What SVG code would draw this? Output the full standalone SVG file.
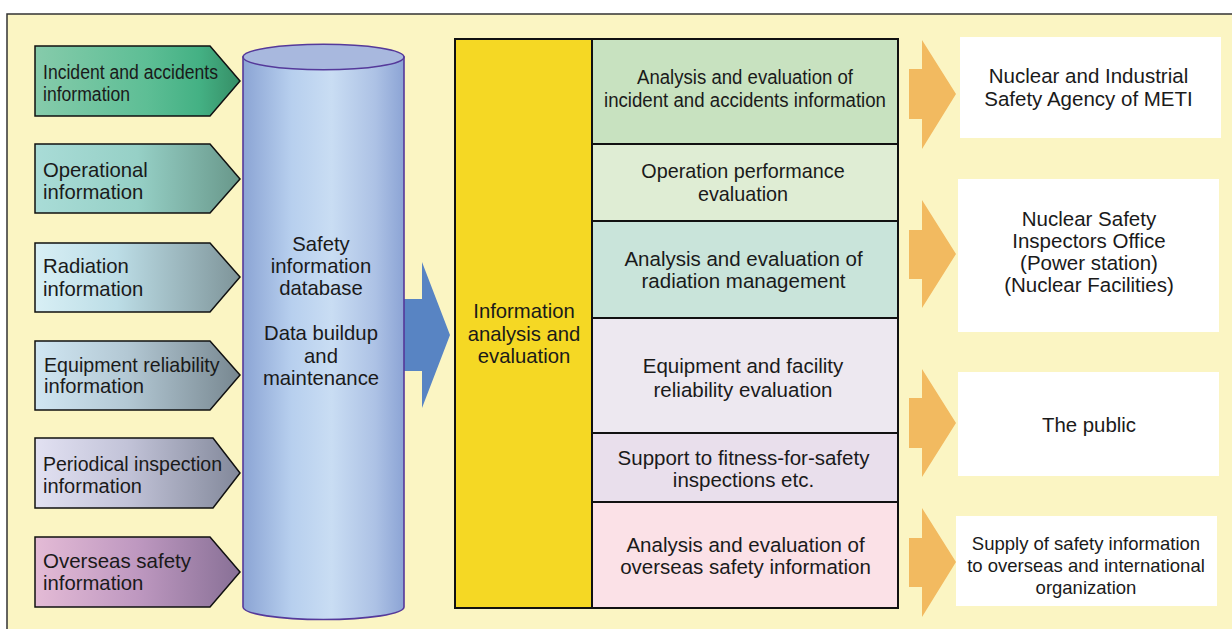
<svg xmlns="http://www.w3.org/2000/svg" width="1232" height="629" viewBox="0 0 1232 629">
<defs>
<style>
text{font-family:"Liberation Sans",Arial,Helvetica,sans-serif;fill:#1a1a1a}
.l{text-anchor:start}
.c{text-anchor:middle}
.src{stroke:#111;stroke-width:1.5}
.box{stroke:#111;stroke-width:2}
.oa{fill:#F2BA60}
.wb{fill:#fff}
</style>
<linearGradient id="g1" x1="0" y1="0" x2="1" y2="0"><stop offset="0" stop-color="#86CBAB"/><stop offset="0.55" stop-color="#5DBE95"/><stop offset="0.8" stop-color="#44B184"/><stop offset="1" stop-color="#368E66"/></linearGradient>
<linearGradient id="g2" x1="0" y1="0" x2="1" y2="0"><stop offset="0" stop-color="#A9DCD7"/><stop offset="0.5" stop-color="#96D0C6"/><stop offset="1" stop-color="#68978A"/></linearGradient>
<linearGradient id="g3" x1="0" y1="0" x2="1" y2="0"><stop offset="0" stop-color="#D8EFF5"/><stop offset="0.4" stop-color="#BCDDE6"/><stop offset="1" stop-color="#7E9499"/></linearGradient>
<linearGradient id="g4" x1="0" y1="0" x2="1" y2="0"><stop offset="0" stop-color="#D0E6F2"/><stop offset="0.45" stop-color="#B3C8D4"/><stop offset="1" stop-color="#778790"/></linearGradient>
<linearGradient id="g5" x1="0" y1="0" x2="1" y2="0"><stop offset="0" stop-color="#E2E1F2"/><stop offset="0.45" stop-color="#C2C3D8"/><stop offset="1" stop-color="#82889A"/></linearGradient>
<linearGradient id="g6" x1="0" y1="0" x2="1" y2="0"><stop offset="0" stop-color="#E4BBD6"/><stop offset="0.5" stop-color="#BE98C0"/><stop offset="1" stop-color="#887096"/></linearGradient>
<linearGradient id="cyl" x1="0" y1="0" x2="1" y2="0"><stop offset="0" stop-color="#8BA4D4"/><stop offset="0.3" stop-color="#B7CFEE"/><stop offset="0.55" stop-color="#C9DDF3"/><stop offset="0.82" stop-color="#ADC2E5"/><stop offset="1" stop-color="#8CA4D5"/></linearGradient>
</defs>
<rect x="0" y="0" width="1232" height="629" fill="#fff"/>
<rect x="7" y="14" width="1240" height="630" fill="#FBF5C3" stroke="#333" stroke-width="1.5"/>

<g id="connectors">
<polygon points="403,299 422,299 422,262 450,335 422,408 422,371 403,371" fill="#5884C3"/>
<polygon class="oa" points="909,69 922,69 922,40 956,94 922,149 922,119 909,119"/>
<polygon class="oa" points="909,230 922,230 922,200 956,254 922,308 922,279 909,279"/>
<polygon class="oa" points="909,398 922,398 922,369 956,423 922,477 922,448 909,448"/>
<polygon class="oa" points="909,538 922,538 922,508 956,562 922,617 922,587 909,587"/>
</g>

<g id="src-incident">
<polygon class="src" fill="url(#g1)" points="35,46 210,46 240,81 210,116 35,116"/>
<text class="l" x="43" y="79" font-size="19.5" textLength="175" lengthAdjust="spacingAndGlyphs">Incident and accidents</text>
<text class="l" x="43" y="101" font-size="19.5" textLength="87" lengthAdjust="spacingAndGlyphs">information</text>
</g>
<g id="src-operational">
<polygon class="src" fill="url(#g2)" points="35,144 210,144 240,179 210,213 35,213"/>
<text class="l" x="43" y="177" font-size="20.3">Operational</text>
<text class="l" x="43" y="199" font-size="20.3">information</text>
</g>
<g id="src-radiation">
<polygon class="src" fill="url(#g3)" points="35,243 210,243 240,277 210,312 35,312"/>
<text class="l" x="43" y="273" font-size="20.3">Radiation</text>
<text class="l" x="43" y="296" font-size="20.3">information</text>
</g>
<g id="src-equipment">
<polygon class="src" fill="url(#g4)" points="35,341 210,341 240,375 210,410 35,410"/>
<text class="l" x="44" y="371.5" font-size="20.2" textLength="175.5" lengthAdjust="spacingAndGlyphs">Equipment reliability</text>
<text class="l" x="44" y="393" font-size="20.2">information</text>
</g>
<g id="src-periodical">
<polygon class="src" fill="url(#g5)" points="35,438 213,438 240,473 213,508 35,508"/>
<text class="l" x="43" y="470.5" font-size="20" textLength="179" lengthAdjust="spacingAndGlyphs">Periodical inspection</text>
<text class="l" x="43" y="492.5" font-size="20">information</text>
</g>
<g id="src-overseas">
<polygon class="src" fill="url(#g6)" points="35,537 210,537 240,572 210,607 35,607"/>
<text class="l" x="43" y="568" font-size="20.3" textLength="148" lengthAdjust="spacingAndGlyphs">Overseas safety</text>
<text class="l" x="43" y="590" font-size="20.3">information</text>
</g>

<g id="database">
<path d="M243,57 V607 A80.5,12.5 0 0 0 404,607 V57 Z" fill="url(#cyl)" stroke="#55399A" stroke-width="1.6"/>
<ellipse cx="323.5" cy="57" rx="80.5" ry="12.8" fill="#A8B8DE" stroke="#55399A" stroke-width="1.6"/>
<text class="c" x="321" y="250.5" font-size="20.3">Safety</text>
<text class="c" x="321" y="273" font-size="20.3">information</text>
<text class="c" x="321" y="295" font-size="20.3">database</text>
<text class="c" x="321" y="340" font-size="20.3">Data buildup</text>
<text class="c" x="321" y="362.5" font-size="20.3">and</text>
<text class="c" x="321" y="385" font-size="20.3">maintenance</text>
</g>

<g id="analysis">
<rect class="box" x="455" y="39" width="137" height="569" fill="#F5D824"/>
<text class="c" x="524" y="317.5" font-size="20.3">Information</text>
<text class="c" x="524" y="340.5" font-size="20.3">analysis and</text>
<text class="c" x="524" y="363" font-size="20.3">evaluation</text>
</g>

<g id="eval-incident">
<rect class="box" x="592" y="39" width="306" height="105" fill="#C8E2C0"/>
<text class="c" x="745" y="84" font-size="19.6" textLength="216" lengthAdjust="spacingAndGlyphs">Analysis and evaluation of</text>
<text class="c" x="745" y="107" font-size="19.6" textLength="282" lengthAdjust="spacingAndGlyphs">incident and accidents information</text>
</g>
<g id="eval-operation">
<rect class="box" x="592" y="144" width="306" height="77" fill="#DFEDD4"/>
<text class="c" x="743" y="178.3" font-size="19.8">Operation performance</text>
<text class="c" x="743" y="200.7" font-size="19.8">evaluation</text>
</g>
<g id="eval-radiation">
<rect class="box" x="592" y="221" width="306" height="97" fill="#C9E4DA"/>
<text class="c" x="743.5" y="265.7" font-size="20.5">Analysis and evaluation of</text>
<text class="c" x="743.5" y="288.3" font-size="20.5">radiation management</text>
</g>
<g id="eval-equipment">
<rect class="box" x="592" y="318" width="306" height="115" fill="#EDE8F0"/>
<text class="c" x="743" y="373.3" font-size="20.5">Equipment and facility</text>
<text class="c" x="743" y="396.5" font-size="20.5">reliability evaluation</text>
</g>
<g id="eval-fitness">
<rect class="box" x="592" y="433" width="306" height="69" fill="#E9DFEC"/>
<text class="c" x="743.5" y="465" font-size="20.5">Support to fitness-for-safety</text>
<text class="c" x="743.5" y="486.7" font-size="20.5">inspections etc.</text>
</g>
<g id="eval-overseas">
<rect class="box" x="592" y="502" width="306" height="106" fill="#FBE1E7"/>
<text class="c" x="745.5" y="551.7" font-size="20.5">Analysis and evaluation of</text>
<text class="c" x="745.5" y="574" font-size="20.5">overseas safety information</text>
</g>

<g id="dest-nisa">
<rect class="wb" x="960" y="37" width="261" height="101"/>
<text class="c" x="1088.5" y="83.3" font-size="20.5">Nuclear and Industrial</text>
<text class="c" x="1088.5" y="106" font-size="20.5">Safety Agency of METI</text>
</g>
<g id="dest-office">
<rect class="wb" x="958" y="179" width="261" height="153"/>
<text class="c" x="1089" y="226" font-size="20.5">Nuclear Safety</text>
<text class="c" x="1089" y="248" font-size="20.5">Inspectors Office</text>
<text class="c" x="1089" y="270" font-size="20.5">(Power station)</text>
<text class="c" x="1089" y="292" font-size="20.5">(Nuclear Facilities)</text>
</g>
<g id="dest-public">
<rect class="wb" x="958" y="372" width="261" height="104"/>
<text class="c" x="1089" y="432.3" font-size="20.4">The public</text>
</g>
<g id="dest-international">
<rect class="wb" x="956" y="516" width="261" height="90"/>
<text class="c" x="1086" y="550" font-size="18.5">Supply of safety information</text>
<text class="c" x="1086" y="572.3" font-size="18.5">to overseas and international</text>
<text class="c" x="1086" y="593.5" font-size="18.5">organization</text>
</g>
</svg>
